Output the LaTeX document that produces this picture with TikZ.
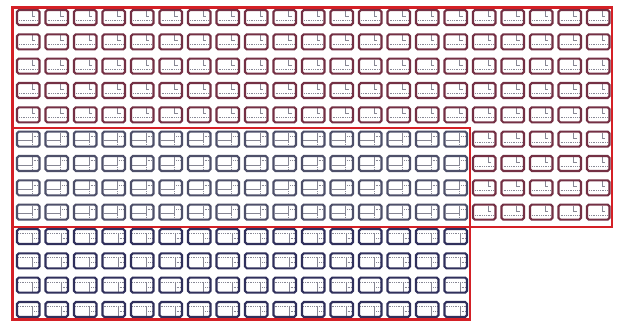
\documentclass[tikz,border=0pt]{standalone}
\begin{document}
\definecolor{frameRed}{RGB}{212,32,38}
\definecolor{cellMaroon}{RGB}{116,48,68}
\definecolor{cellSlate}{RGB}{78,80,106}
\definecolor{cellNavy}{RGB}{48,48,92}
\definecolor{detailGray}{RGB}{135,135,148}
\begin{tikzpicture}[x=1pt,y=-1pt,
  cellbox/.style={rounded corners=1.8pt, line width=2.1pt},
  detail/.style={line width=0.6pt, draw=detailGray},
  dashdetail/.style={detail, dash pattern=on 1pt off 0.8pt},
  redframe/.style={draw=frameRed, line width=2.8pt}]
\useasboundingbox (0,0) rectangle (617,321);
\fill[white] (0,0) rectangle (617,321);
\def\cw{22.5}
\def\ch{15}
% type A cells (maroon): rows 0-4 all columns, rows 5-8 columns 16-20
\foreach \i in {0,...,20}{
  \foreach \j in {0,...,8}{
    \pgfmathtruncatemacro{\show}{(\j<5) || (\i>15)}
    \ifnum\show=1
      \pgfmathsetmacro{\xa}{17+28.5*\i}
      \pgfmathsetmacro{\ya}{10+24.33*\j}
      \draw[dashdetail] (\xa+2,\ya+0.68*\ch) -- (\xa+\cw-2,\ya+0.68*\ch);
      \draw[detail] (\xa+0.66*\cw,\ya+1) -- (\xa+0.66*\cw,\ya+0.42*\ch) -- (\xa+0.82*\cw,\ya+0.42*\ch);
      \draw[cellbox, draw=cellMaroon] (\xa,\ya) rectangle (\xa+\cw,\ya+\ch);
    \fi
  }
}
% type B cells (slate): rows 5-8 columns 0-15
\foreach \i in {0,...,15}{
  \foreach \j in {5,...,8}{
    \pgfmathsetmacro{\xa}{17+28.5*\i}
    \pgfmathsetmacro{\ya}{10+24.33*\j}
    \draw[detail] (\xa+1,\ya+0.6*\ch) -- (\xa+0.66*\cw,\ya+0.6*\ch) -- (\xa+0.66*\cw,\ya+1);
    \draw[dashdetail] (\xa+0.66*\cw,\ya+0.3*\ch) -- (\xa+\cw-1,\ya+0.3*\ch);
    \draw[dashdetail] (\xa+0.66*\cw,\ya+0.6*\ch) -- (\xa+0.66*\cw,\ya+\ch-1);
    \draw[cellbox, draw=cellSlate] (\xa,\ya) rectangle (\xa+\cw,\ya+\ch);
  }
}
% type C cells (navy): rows 9-12 columns 0-15
\foreach \i in {0,...,15}{
  \foreach \j in {9,...,12}{
    \pgfmathsetmacro{\xa}{17+28.5*\i}
    \pgfmathsetmacro{\ya}{10+24.33*\j}
    \draw[dashdetail] (\xa+1,\ya+0.28*\ch) -- (\xa+\cw-1,\ya+0.28*\ch);
    \draw[detail] (\xa+0.68*\cw,\ya+0.28*\ch) -- (\xa+0.68*\cw,\ya+\ch-1);
    \draw[dashdetail] (\xa+0.68*\cw,\ya+0.62*\ch) -- (\xa+\cw-1,\ya+0.62*\ch);
    \draw[cellbox, draw=cellNavy] (\xa,\ya) rectangle (\xa+\cw,\ya+\ch);
  }
}
% red frames
\draw[redframe] (12.5,7.5) rectangle (612,227);
\draw[redframe] (12.5,128) rectangle (470,319.5);
\end{tikzpicture}
\end{document}
